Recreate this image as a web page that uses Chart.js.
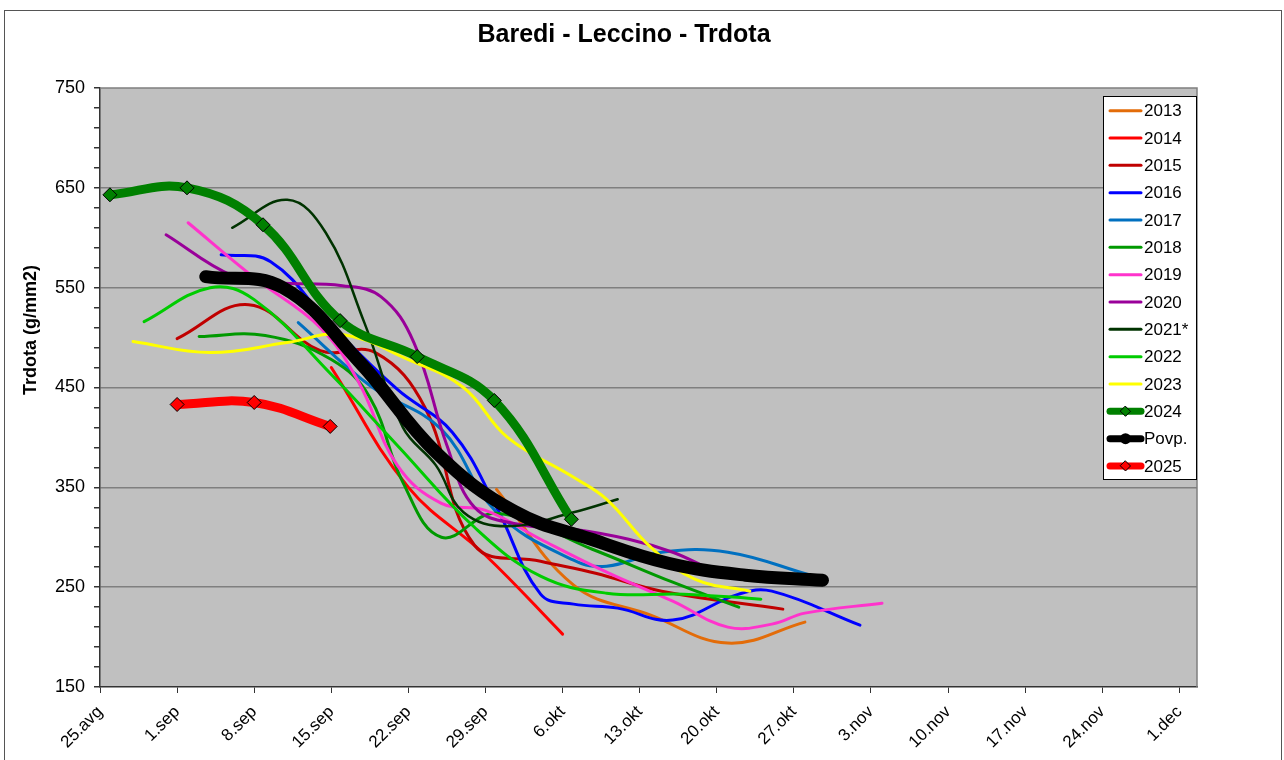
<!DOCTYPE html>
<html>
<head>
<meta charset="utf-8">
<script src="https://cdn.jsdelivr.net/npm/chart.js@4.4.1/dist/chart.umd.min.js"></script>
<style>
  body { margin: 0; background: #fff; }
  #wrap { width: 1284px; height: 760px; }
</style>
</head>
<body>
<div id="wrap"><canvas id="trdota_chart" width="1284" height="760"></canvas></div>
<script>
// x = days after 25.avg
const weekLabels = ['25.avg', '1.sep', '8.sep', '15.sep', '22.sep', '29.sep', '6.okt', '13.okt', '20.okt', '27.okt', '3.nov', '10.nov', '17.nov', '24.nov', '1.dec'];
const yLabels = [150, 250, 350, 450, 550, 650, 750];

const days2013 = [36, 43, 50, 57, 64];
const vals2013 = [348, 252, 222, 194, 215];
const days2014 = [21, 28, 35, 42];
const vals2014 = [470, 350, 282, 203];
const days2015 = [7, 13.5, 20, 25, 29.5, 34, 40, 45, 51, 62];
const vals2015 = [499, 533, 487, 485, 430, 292, 276, 264, 246, 228];
const days2016 = [11, 15.5, 21, 27, 32, 36, 40, 43, 47, 52, 58, 61, 69];
const vals2016 = [583, 576, 512, 448, 405, 330, 243, 233, 229, 217, 243, 246, 212];
const days2017 = [18, 24.5, 31, 36, 43, 46, 51, 57, 64.5];
const vals2017 = [515, 452, 408, 325, 277, 271, 285, 285, 262];
const days2018 = [9, 15, 21, 24.5, 27.5, 31, 36, 44.7, 52, 58];
const vals2018 = [501, 502, 478, 440, 355, 300, 324, 288, 255, 230];
const days2019 = [8, 14, 20, 23.5, 27, 31, 35, 40, 46, 52, 57, 61, 64, 71];
const vals2019 = [615, 560, 510, 455, 372, 334, 327, 298, 265, 236, 210, 213, 224, 234];
const days2020 = [6, 12, 16, 22, 25.5, 28.5, 31.5, 34, 38, 43, 48, 52, 55];
const vals2020 = [603, 562, 555, 552, 541, 495, 392, 330, 313, 308, 298, 285, 270];
const days2021 = [12, 17, 20.5, 24, 27.5, 30.5, 33, 37, 43, 47];
const vals2021 = [610, 638, 605, 515, 410, 372, 325, 311, 325, 338];
const days2022 = [4, 10, 14, 21, 27, 34, 40, 46, 53, 60];
const vals2022 = [516, 550, 538, 463, 392, 310, 261, 244, 243, 238];
const days2023 = [3, 10, 17, 22, 28, 33, 37, 43, 46, 50, 54, 59];
const vals2023 = [496, 485, 495, 503, 478, 450, 400, 360, 338, 290, 258, 246];
const days2024 = [0.9, 7.9, 14.8, 21.8, 28.8, 35.8, 42.8];
const vals2024 = [643, 650, 613, 517, 481, 437, 318];
const daysAvg = [9.6, 16.6, 23.6, 30.6, 37.6, 44.6, 51.6, 58.6, 65.6];
const valsAvg = [561, 550, 475, 384, 326, 298, 274, 262, 257];
const days2025 = [7, 14, 20.9];
const vals2025 = [433, 435, 411];

const series = [
  { label: '2013', days: days2013, vals: vals2013, color: '#E36C09', width: 3 },
  { label: '2014', days: days2014, vals: vals2014, color: '#FF0000', width: 3 },
  { label: '2015', days: days2015, vals: vals2015, color: '#C00000', width: 3 },
  { label: '2016', days: days2016, vals: vals2016, color: '#0000FF', width: 3 },
  { label: '2017', days: days2017, vals: vals2017, color: '#0070C0', width: 3 },
  { label: '2018', days: days2018, vals: vals2018, color: '#009900', width: 3 },
  { label: '2019', days: days2019, vals: vals2019, color: '#FF33CC', width: 3 },
  { label: '2020', days: days2020, vals: vals2020, color: '#990099', width: 3 },
  { label: '2021*', days: days2021, vals: vals2021, color: '#003300', width: 2.5 },
  { label: '2022', days: days2022, vals: vals2022, color: '#00CC00', width: 3 },
  { label: '2023', days: days2023, vals: vals2023, color: '#FFFF00', width: 3 },
  { label: '2024', days: days2024, vals: vals2024, color: '#008000', width: 9, marker: 'diamond' },
  { label: 'Povp.', days: daysAvg, vals: valsAvg, color: '#000000', width: 13, marker: 'circle' },
  { label: '2025', days: days2025, vals: vals2025, color: '#FF0000', width: 9, marker: 'diamond' }
];

const datasets = series.map((s, i) => ({
  label: s.label,
  data: s.days.map((d, j) => ({ x: d, y: s.vals[j] })),
  borderColor: s.color,
  borderWidth: s.width,
  borderCapStyle: 'round',
  borderJoinStyle: 'round',
  tension: 0.4,
  fill: false,
  pointStyle: 'rectRot',
  pointRadius: s.marker === 'diamond' ? 7 : 0,
  pointBackgroundColor: s.color,
  pointBorderColor: '#000',
  pointBorderWidth: 1,
  order: series.length - i
}));

const framePlugin = {
  id: 'frame',
  beforeDraw(chart) {
    const { ctx, chartArea: a } = chart;
    ctx.save();
    ctx.fillStyle = '#fff';
    ctx.fillRect(0, 0, chart.width, chart.height);
    ctx.strokeStyle = '#555';
    ctx.lineWidth = 1;
    ctx.strokeRect(4.5, 10.5, 1277, 760);
    ctx.fillStyle = '#C0C0C0';
    ctx.fillRect(a.left, a.top, a.right - a.left, a.bottom - a.top);
    ctx.restore();
  },
  beforeDatasetsDraw(chart) {
    const { ctx, chartArea: a } = chart;
    ctx.save();
    ctx.strokeStyle = '#7f7f7f';
    ctx.lineWidth = 1.5;
    ctx.beginPath();
    ctx.moveTo(a.left, a.top);
    ctx.lineTo(a.right, a.top);
    ctx.lineTo(a.right, a.bottom);
    ctx.stroke();
    ctx.restore();
  },
  afterDraw(chart) {
    const { ctx } = chart;
    ctx.save();
    ctx.fillStyle = '#000';
    ctx.textAlign = 'center';
    ctx.textBaseline = 'middle';
    ctx.font = 'bold 25px "Liberation Sans", Arial, sans-serif';
    ctx.fillText('Baredi - Leccino - Trdota', 624, 35);
    ctx.translate(31, 330);
    ctx.rotate(-Math.PI / 2);
    ctx.font = 'bold 18px "Liberation Sans", Arial, sans-serif';
    ctx.fillText('Trdota (g/mm2)', 0, 0);
    ctx.restore();

    // legend box
    ctx.save();
    ctx.fillStyle = '#fff';
    ctx.fillRect(1103, 96, 94, 384);
    ctx.strokeStyle = '#000';
    ctx.lineWidth = 1;
    ctx.strokeRect(1103.5, 96.5, 93, 383);
    ctx.font = '17px "Liberation Sans", Arial, sans-serif';
    ctx.textBaseline = 'middle';
    series.forEach((s, i) => {
      const y = 110.7 + i * 27.33;
      ctx.strokeStyle = s.color;
      ctx.lineWidth = s.width > 5 ? 7 : 3;
      ctx.lineCap = 'round';
      ctx.beginPath();
      ctx.moveTo(1110, y);
      ctx.lineTo(1141, y);
      ctx.stroke();
      if (s.marker === 'diamond') {
        ctx.fillStyle = s.color;
        ctx.strokeStyle = '#000';
        ctx.lineWidth = 1;
        ctx.beginPath();
        ctx.moveTo(1125.5, y - 5);
        ctx.lineTo(1130.5, y);
        ctx.lineTo(1125.5, y + 5);
        ctx.lineTo(1120.5, y);
        ctx.closePath();
        ctx.fill();
        ctx.stroke();
      } else if (s.marker === 'circle') {
        ctx.fillStyle = s.color;
        ctx.beginPath();
        ctx.arc(1125.5, y, 5.5, 0, Math.PI * 2);
        ctx.fill();
      }
      ctx.fillStyle = '#000';
      ctx.textAlign = 'left';
      ctx.fillText(s.label, 1144, y + 1);
    });
    ctx.restore();
  }
};

Chart.defaults.font.family = '"Liberation Sans", Arial, sans-serif';
Chart.defaults.color = '#000';

const chart = new Chart(document.getElementById('trdota_chart').getContext('2d'), {
  type: 'line',
  data: { datasets },
  options: {
    responsive: false,
    animation: false,
    devicePixelRatio: 1,
    layout: { padding: { top: 88, right: 87, left: 0, bottom: 0 } },
    plugins: {
      legend: { display: false },
      title: { display: false },
      tooltip: { enabled: false }
    },
    scales: {
      x: {
        type: 'linear',
        min: 0,
        max: 99.6,
        afterBuildTicks: (scale) => {
          scale.ticks = weekLabels.map((_, i) => ({ value: i * 7 }));
        },
        afterFit: (scale) => { scale.height = 73; },
        ticks: {
          autoSkip: false,
          minRotation: 45,
          maxRotation: 45,
          padding: 9,
          font: { size: 17 },
          callback: (v) => weekLabels[Math.round(v / 7)]
        },
        grid: { drawOnChartArea: false, drawTicks: true, tickLength: 6, tickColor: '#333' },
        border: { display: true, color: '#333', width: 1.5 }
      },
      y: {
        min: 150,
        max: 750,
        afterFit: (scale) => { scale.width = 100; },
        ticks: {
          autoSkip: false,
          stepSize: 20,
          padding: 9,
          font: { size: 18 },
          callback: (v) => yLabels.includes(v) ? String(v) : ''
        },
        grid: {
          color: (ctx) => {
            const v = ctx.tick ? ctx.tick.value : 0;
            return yLabels.includes(v) && v > 150 && v < 750 ? '#7f7f7f' : 'rgba(0,0,0,0)';
          },
          lineWidth: 1.5,
          tickLength: 6,
          tickColor: '#333'
        },
        border: { display: true, color: '#333', width: 1.5 }
      }
    }
  },
  plugins: [framePlugin]
});
</script>
</body>
</html>
